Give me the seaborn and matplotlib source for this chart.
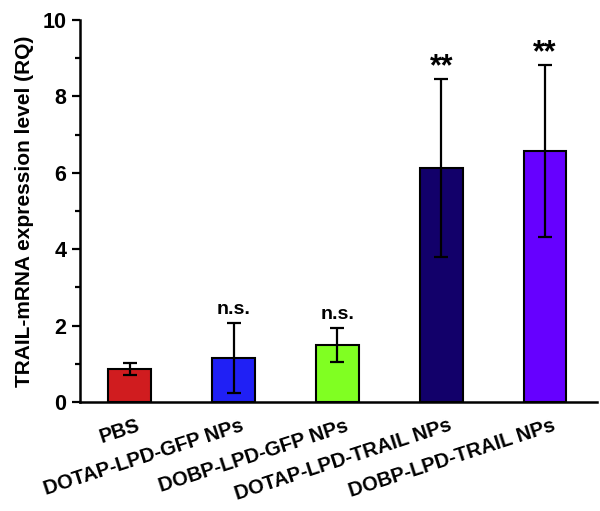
import numpy as np
import pandas as pd
import seaborn as sns
import matplotlib.pyplot as plt
import matplotlib.transforms as mtransforms

# data
groups = ['PBS', 'DOTAP-LPD-GFP NPs', 'DOBP-LPD-GFP NPs',
          'DOTAP-LPD-TRAIL NPs', 'DOBP-LPD-TRAIL NPs']
rq_mean = [0.87, 1.15, 1.50, 6.13, 6.58]
rq_err = [0.16, 0.92, 0.45, 2.33, 2.25]
marks = ['', 'n.s.', 'n.s.', '**', '**']
bar_colors = ['#D01C1F', '#2020F5', '#80FF22', '#12006A', '#6600FF']

df = pd.DataFrame({'group': groups, 'rq': rq_mean})

sns.set_style('ticks')
plt.rcParams['font.family'] = ['Liberation Sans', 'DejaVu Sans']
plt.rcParams['font.weight'] = 'bold'
plt.rcParams['text.color'] = 'black'
plt.rcParams['axes.labelcolor'] = 'black'
plt.rcParams['xtick.color'] = 'black'
plt.rcParams['ytick.color'] = 'black'
plt.rcParams['axes.edgecolor'] = 'black'

fig = plt.figure(figsize=(6, 5.11), dpi=100)
ax = fig.add_axes([0.133, 0.213, 0.862, 0.748])

sns.barplot(data=df, x='group', y='rq', hue='group', palette=bar_colors,
            saturation=1, width=0.41, edgecolor='black', linewidth=1.5,
            legend=False, ax=ax)
ax.errorbar(np.arange(len(groups)), rq_mean, yerr=rq_err, fmt='none',
            ecolor='black', elinewidth=1.6, capsize=5, capthick=1.6)

for i, (m, e, t) in enumerate(zip(rq_mean, rq_err, marks)):
    if t == 'n.s.':
        ax.text(i, m + e + 0.12, t, ha='center', va='bottom', fontsize=14, fontweight='bold')
    elif t:
        ax.text(i, m + e - 0.1, t, ha='center', va='bottom', fontsize=22, fontweight='bold')

ax.set_xlim(-0.48, 4.5)
ax.set_ylim(0, 10)
ax.set_yticks([0, 2, 4, 6, 8, 10])
ax.set_yticks([1, 3, 5, 7, 9], minor=True)
ax.set_xlabel('')
ax.set_ylabel('TRAIL-mRNA expression level (RQ)', fontsize=15, fontweight='bold', labelpad=6)
ax.tick_params(axis='y', which='major', length=6, width=1.6, labelsize=15.5)
ax.tick_params(axis='y', which='minor', length=3.5, width=1.6)
ax.tick_params(axis='x', length=0, labelsize=14.5, pad=10)
shift = mtransforms.ScaledTranslation(0.07, 0, fig.dpi_scale_trans)
for lab in ax.get_xticklabels():
    lab.set_rotation(18)
    lab.set_ha('right')
    lab.set_rotation_mode('anchor')
    lab.set_fontweight('bold')
    lab.set_transform(lab.get_transform() + shift)
for lab in ax.get_yticklabels():
    lab.set_fontweight('bold')
for s in ['left', 'bottom']:
    ax.spines[s].set_linewidth(1.8)
sns.despine(ax=ax)

fig.savefig('out.png', dpi=100)
